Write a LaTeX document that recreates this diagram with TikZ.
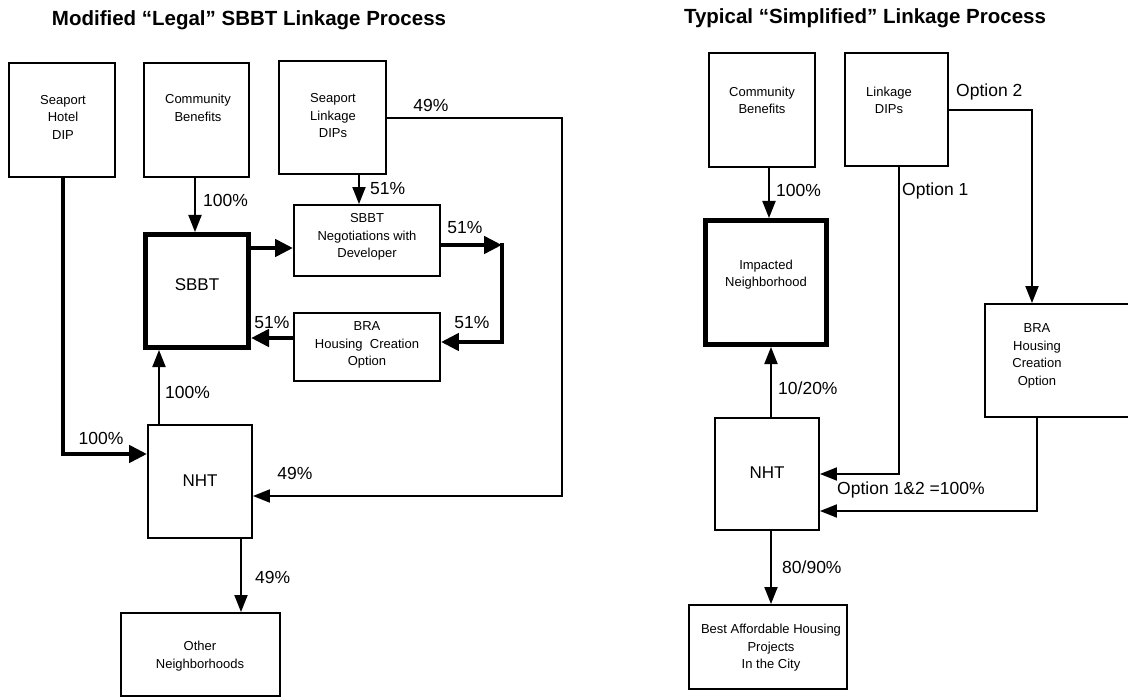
\documentclass[tikz,border=0pt]{standalone}
\usepackage{fontspec}
\setmainfont{Liberation Sans}
\usetikzlibrary{arrows.meta}
\begin{document}
\begin{tikzpicture}[x=1pt,y=-1pt,
  box/.style={draw, line width=1.9pt, inner sep=0pt},
  tbox/.style={draw, line width=5pt, inner sep=0pt},
  btxt/.style={font=\fontsize{13}{17.5}\selectfont, align=center, inner sep=0pt},
  bigtxt/.style={font=\fontsize{17}{20}\selectfont, inner sep=0pt},
  lbl/.style={font=\fontsize{17.5}{20}\selectfont, inner sep=0pt},
  ttl/.style={font=\bfseries\fontsize{20.5}{24}\selectfont, inner sep=0pt},
  thinline/.style={line width=1.9pt},
  thickline/.style={line width=4.5pt},
  thinarr/.style={line width=1.9pt, -{Triangle[width=13pt,length=17pt]}},
  thickarr/.style={line width=4.5pt, -{Triangle[width=17pt,length=18pt]}}
]
\useasboundingbox (0,0) rectangle (1128,698);
\clip (0,0) rectangle (1128,698);

% titles
\node[ttl] (title1) at (249,20) {Modified “Legal” SBBT Linkage Process};
\node[ttl] (title2) at (865,18) {Typical “Simplified” Linkage Process};

% ---------- left diagram boxes ----------
\node[box, minimum width=106, minimum height=114] (hotel) at (62,120) {};
\node[box, minimum width=105, minimum height=114] (cbL) at (196.5,120) {};
\node[box, minimum width=107, minimum height=113] (slink) at (332.5,117.5) {};
\node[box, minimum width=146, minimum height=71] (nego) at (367,240.5) {};
\node[tbox, minimum width=103, minimum height=113] (sbbt) at (197,291) {};
\node[box, minimum width=146, minimum height=68] (bra) at (367,347) {};
\node[box, minimum width=104, minimum height=113] (nhtL) at (200,481.5) {};
\node[box, minimum width=159, minimum height=83] (other) at (200.5,654.5) {};

\node[btxt] (thotel) at (63,117) {Seaport\\Hotel\\DIP};
\node[btxt] (tcbL) at (198,108) {Community\\Benefits};
\node[btxt] (tslink) at (333,116) {Seaport\\Linkage\\DIPs};
\node[btxt] (tnego) at (367,237) {SBBT\\Negotiations with\\Developer};
\node[bigtxt] (tsbbt) at (197,285) {SBBT};
\node[btxt] (tbra) at (367,345) {BRA\\Housing\ \ Creation\\Option};
\node[bigtxt] (tnhtL) at (200,481) {NHT};
\node[btxt] (tother) at (200,656) {Other\\Neighborhoods};

% ---------- left diagram connectors ----------
\draw[thinarr] (cbL.south -| 195,0) -- (sbbt.north -| 195,0);
\draw[thinarr] (slink.south -| 359,0) -- (nego.north -| 359,0);
\coordinate (r1) at (562,118);
\coordinate (r2) at (562,496);
\draw[thinarr] (slink.east |- r1) -- (r1) -- (r2) -- (nhtL.east |- r2);
\draw[thickarr] (sbbt.east |- 0,248) -- (nego.west |- 0,248);
\coordinate (c1) at (502,245);
\coordinate (c2) at (502,342);
\draw[thickarr] (nego.east |- c1) -- (c1);
\draw[thickline, line cap=rect] (c1) -- (c2);
\draw[thickarr] (c2) -- (bra.east |- c2);
\draw[thickarr] (bra.west |- 0,338) -- (sbbt.east |- 0,338);
\draw[thinarr] (nhtL.north -| 159,0) -- (sbbt.south -| 159,0);
\draw[thickarr] (hotel.south -| 63,0) |- (nhtL.west |- 0,454);
\draw[thinarr] (nhtL.south -| 241,0) -- (other.north -| 241,0);

\node[lbl, anchor=west] (l1) at (203,200) {100\%};
\node[lbl, anchor=west] (l2) at (370,189) {51\%};
\node[lbl] (l3) at (431,105) {49\%};
\node[lbl] (l4) at (465,228) {51\%};
\node[lbl] (l5) at (472,323) {51\%};
\node[lbl] (l6) at (272,323) {51\%};
\node[lbl, anchor=west] (l7) at (165,392) {100\%};
\node[lbl] (l8) at (101,438) {100\%};
\node[lbl] (l9) at (295,473) {49\%};
\node[lbl, anchor=west] (l10) at (255,577) {49\%};

% ---------- right diagram boxes ----------
\node[box, minimum width=106, minimum height=114] (cbR) at (762,110) {};
\node[box, minimum width=103, minimum height=113] (ldip) at (896.5,109.5) {};
\node[tbox, minimum width=121, minimum height=124] (impact) at (766,282.5) {};
\node[box, minimum width=154, minimum height=113] (braR) at (1062,360.5) {};
\node[box, minimum width=104, minimum height=112] (nhtR) at (767,474) {};
\node[box, minimum width=158, minimum height=84] (best) at (768,647) {};

\node[btxt] (tcbR) at (762,100.5) {Community\\Benefits};
\node[btxt] (tldip) at (889,100.5) {Linkage\\DIPs};
\node[btxt] (timpact) at (766,274.5) {Impacted\\Neighborhood};
\node[btxt] (tbraR) at (1037,356) {BRA\\Housing\\Creation\\Option};
\node[bigtxt] (tnhtR) at (767,473) {NHT};
\node[btxt] (tbest) at (771,648) {Best Affordable Housing\\Projects\\In the City};

% ---------- right diagram connectors ----------
\draw[thinarr] (cbR.south -| 769,0) -- (impact.north -| 769,0);
\coordinate (o2) at (1032,110);
\draw[thinarr] (ldip.east |- o2) -- (o2) -- (braR.north -| o2);
\coordinate (o1) at (899,474);
\draw[thinarr] (ldip.south -| o1) -- (o1) -- (nhtR.east |- o1);
\coordinate (o3) at (1037,511);
\draw[thinarr] (braR.south -| o3) -- (o3) -- (nhtR.east |- o3);
\draw[thinarr] (nhtR.north -| 771,0) -- (impact.south -| 771,0);
\draw[thinarr] (nhtR.south -| 771,0) -- (best.north -| 771,0);

\node[lbl, anchor=west] (r100) at (776,190) {100\%};
\node[lbl, anchor=west] (rop2) at (956,92) {Option 2};
\node[lbl, anchor=west] (rop1) at (902,191) {Option 1};
\node[lbl, anchor=west] (rop12) at (837,490) {Option 1\&2 =100\%};
\node[lbl, anchor=west] (r1020) at (778,388) {10/20\%};
\node[lbl, anchor=west] (r8090) at (782,567) {80/90\%};
\end{tikzpicture}
\end{document}
